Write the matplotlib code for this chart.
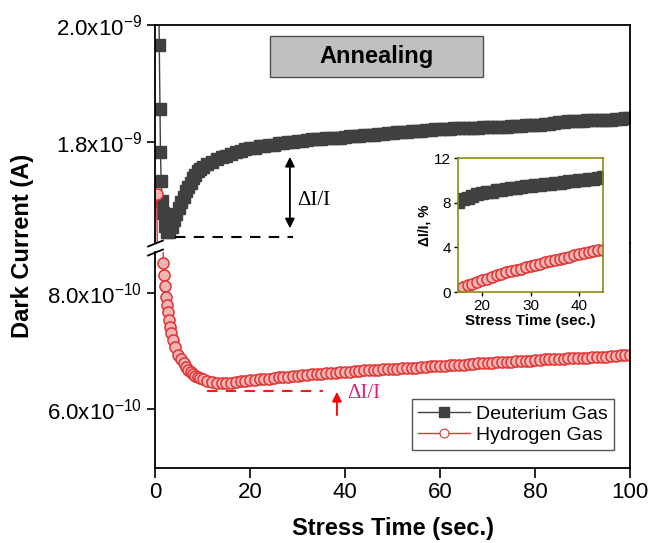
import numpy as np
import matplotlib
matplotlib.use('Agg')
import matplotlib.pyplot as plt
from matplotlib.patches import Rectangle, ConnectionPatch

plt.rcParams['font.family'] = ['Liberation Sans', 'DejaVu Sans']
plt.rcParams['mathtext.default'] = 'regular'

# ---- data ----
# Deuterium gas, dark current in units of 1e-9 A
d_time = [0.5, 0.9, 1.05, 1.15, 1.3, 1.5, 1.7, 2.0, 2.5, 3.0, 3.5, 4.0, 4.5, 5.0, 5.5,
          6.0, 6.5, 7.0, 7.5, 8.0, 8.5, 9.0, 9.5, 10.0] + list(range(11, 101))
d_current = [2.30, 1.966, 1.856, 1.782, 1.733, 1.698, 1.678, 1.655, 1.645, 1.645, 1.654,
             1.666, 1.676, 1.686, 1.696, 1.706, 1.715, 1.723, 1.730, 1.737, 1.743, 1.749,
             1.753, 1.756,
             1.761, 1.766, 1.770, 1.773, 1.776, 1.779, 1.782, 1.784, 1.787, 1.789,
             1.790, 1.792, 1.793, 1.794, 1.795, 1.797, 1.798, 1.799, 1.800, 1.801,
             1.802, 1.803, 1.804, 1.805, 1.805, 1.806, 1.806, 1.807, 1.807, 1.808,
             1.809, 1.810, 1.810, 1.811, 1.812, 1.812, 1.813, 1.814, 1.815, 1.815,
             1.816, 1.816, 1.817, 1.818, 1.818, 1.819, 1.820, 1.820, 1.821, 1.822,
             1.822, 1.822, 1.823, 1.823, 1.823, 1.824, 1.824, 1.824, 1.825, 1.825,
             1.825, 1.826, 1.826, 1.826, 1.827, 1.827, 1.827, 1.828, 1.828, 1.829,
             1.829, 1.830, 1.831, 1.832, 1.833, 1.834, 1.835, 1.835, 1.836, 1.836,
             1.837, 1.837, 1.837, 1.838, 1.838, 1.838, 1.839, 1.839, 1.840, 1.841]

# Hydrogen gas, dark current in units of 1e-10 A
h_time = [0.35, 1.75, 1.9, 2.1, 2.25, 2.45, 2.65, 2.85, 3.15, 3.4, 3.7, 4.2, 4.9, 5.5,
          6.0, 6.5, 7.0, 7.5, 8.0, 8.5, 9.0, 9.5, 10.0] + list(range(11, 101))
h_current = [17.1, 8.52, 8.32, 8.12, 7.94, 7.80, 7.67, 7.54, 7.42, 7.31, 7.19, 7.08, 6.94,
             6.86, 6.79, 6.73, 6.68, 6.64, 6.61, 6.58, 6.56, 6.54, 6.52,
             6.49, 6.47, 6.46, 6.45, 6.45, 6.46, 6.47, 6.48, 6.49, 6.50,
             6.51, 6.52, 6.52, 6.53, 6.54, 6.55, 6.56, 6.56, 6.57, 6.58,
             6.59, 6.59, 6.60, 6.61, 6.61, 6.62, 6.63, 6.63, 6.64, 6.65,
             6.65, 6.66, 6.66, 6.67, 6.67, 6.68, 6.68, 6.69, 6.69, 6.70,
             6.70, 6.71, 6.71, 6.72, 6.72, 6.73, 6.73, 6.74, 6.74, 6.75,
             6.75, 6.76, 6.76, 6.77, 6.77, 6.78, 6.78, 6.79, 6.79, 6.80,
             6.80, 6.81, 6.81, 6.82, 6.82, 6.83, 6.83, 6.84, 6.84, 6.85,
             6.85, 6.86, 6.86, 6.86, 6.87, 6.87, 6.88, 6.88, 6.88, 6.89,
             6.89, 6.90, 6.90, 6.91, 6.91, 6.92, 6.92, 6.93, 6.93, 6.94]

# inset: dI/I in % between 15 and 45 s
ins_time = list(range(15, 46))
ins_d = [8.1, 8.3, 8.45, 8.6, 8.75, 8.85, 8.95, 9.0, 9.1, 9.15, 9.2, 9.3, 9.35, 9.4, 9.45,
         9.5, 9.55, 9.6, 9.65, 9.7, 9.75, 9.8, 9.85, 9.9, 9.95, 10.0, 10.05, 10.1, 10.15,
         10.25, 10.3]
ins_h = [0.3, 0.45, 0.6, 0.75, 0.9, 1.05, 1.2, 1.35, 1.5, 1.6, 1.75, 1.85, 2.0, 2.1, 2.2,
         2.3, 2.45, 2.55, 2.65, 2.75, 2.85, 2.95, 3.05, 3.15, 3.3, 3.4, 3.5, 3.55, 3.65,
         3.75, 3.8]

x_ticks = [0, 20, 40, 60, 80, 100]
up_ticks = [1.8e-9, 2.0e-9]
up_labels = ['1.8x10$^{-9}$', '2.0x10$^{-9}$']
lo_ticks = [6.0e-10, 8.0e-10]
lo_labels = ['6.0x10$^{-10}$', '8.0x10$^{-10}$']
ins_xticks = [20, 30, 40]
ins_yticks = [0, 4, 8, 12]

# reference levels for the dI/I markers
d_base = 1.637e-9
h_base = 6.31e-10

d_I = np.array(d_current) * 1e-9
h_I = np.array(h_current) * 1e-10

D_COL = '#404040'
H_COL = '#e03434'
d_style = dict(color=D_COL, lw=1, marker='s', ms=8.5, mfc=D_COL, mec=D_COL)
h_style = dict(color=H_COL, lw=1, marker='o', ms=8, mfc='#f3b4b4', mec=H_COL, mew=1.1)

W, H = 653.0, 543.0
fig = plt.figure(figsize=(W / 100, H / 100), dpi=100)
ax_up = fig.add_axes([155 / W, 1 - 242.6 / H, 475 / W, 217.6 / H])
ax_lo = fig.add_axes([155 / W, 1 - 467.7 / H, 475 / W, 215.9 / H])

for ax in (ax_up, ax_lo):
    ax.plot(d_time, d_I, '-', label='Deuterium Gas', **d_style)
    ax.plot(h_time, h_I, '-', label='Hydrogen Gas', **h_style)
    ax.set_xlim(0, 100)
    ax.tick_params(direction='out', length=6, width=1.2, labelsize=16)
    for s in ax.spines.values():
        s.set_linewidth(1.3)

ax_up.set_ylim(1.6271e-9, 2.0e-9)
ax_up.spines['bottom'].set_visible(False)
ax_up.tick_params(axis='x', bottom=False, labelbottom=False)
ax_up.set_yticks(up_ticks, up_labels)

ax_lo.set_ylim(4.993e-10, 8.7155e-10)
ax_lo.spines['top'].set_visible(False)
ax_lo.set_yticks(lo_ticks, lo_labels)
ax_lo.set_xticks(x_ticks)
ax_lo.tick_params(axis='x', length=7)

# axis break marks
kw = dict(marker=[(-1, -0.4), (1, 0.4)], markersize=12, linestyle='none', color='k',
          mec='k', mew=1.3, clip_on=False)
ax_up.plot([0], [0], transform=ax_up.transAxes, **kw)
ax_lo.plot([0], [1], transform=ax_lo.transAxes, **kw)
con = ConnectionPatch(xyA=(1, 0), coordsA=ax_up.transAxes, xyB=(1, 1), coordsB=ax_lo.transAxes,
                      color='k', lw=1.3)
fig.add_artist(con)

# dI/I annotations
ax_up.plot([4.2, 29.1], [d_base, d_base], color='k', lw=1.5, dashes=(5, 4))
ax_up.annotate('', xy=(28.4, 1.774e-9), xytext=(28.4, 1.6516e-9),
               arrowprops=dict(arrowstyle='<|-|>', color='k', lw=1.3, mutation_scale=14,
                               shrinkA=0, shrinkB=0))
ax_up.text(29.9, 1.700e-9, 'ΔI/I', family='Liberation Serif', fontsize=15, va='center')

ax_lo.plot([11, 35.4], [h_base, h_base], color='#ff1a1a', lw=1.5, dashes=(5, 4))
ax_lo.annotate('', xy=(38.3, 6.30e-10), xytext=(38.3, 5.90e-10),
               arrowprops=dict(arrowstyle='-|>', color='#ff0000', lw=1.3, mutation_scale=14,
                               shrinkA=0, shrinkB=0))
ax_lo.text(40.4, 6.28e-10, 'ΔI/I', color='#e0207a', family='Liberation Serif', fontsize=15,
           va='center')

# Annealing label box
ax_up.add_patch(Rectangle((0.242, 0.761), 0.448, 0.188, transform=ax_up.transAxes,
                          facecolor='#c0c0c0', edgecolor='#505050', lw=1, zorder=3))
ax_up.text(0.466, 0.855, 'Annealing', transform=ax_up.transAxes, ha='center', va='center',
           fontsize=17, fontweight='bold', zorder=4)

handles = ax_lo.get_lines()[:2]
leg = ax_lo.legend(handles=handles, loc='lower right', bbox_to_anchor=(0.966, 0.082),
                   borderaxespad=0, fontsize=14, fancybox=False, framealpha=1,
                   edgecolor='#555555', handlelength=2.7, borderpad=0.3, labelspacing=0.2,
                   handletextpad=0.3, markerscale=0.8)
leg.get_frame().set_linewidth(1.0)
leg.legend_handles[1].set_markerfacecolor('white')
leg.legend_handles[1].set_markeredgewidth(0.8)

fig.text(23 / W, 1 - 246 / H, 'Dark Current (A)', rotation=90, ha='center', va='center',
         fontsize=17, fontweight='bold')
fig.text(393 / W, 1 - 528 / H, 'Stress Time (sec.)', ha='center', va='center',
         fontsize=17, fontweight='bold')

# inset
ax_in = fig.add_axes([458 / W, 1 - 292 / H, 145 / W, 134 / H])
ax_in.plot(ins_time, ins_d, '-', **d_style)
ax_in.plot(ins_time, ins_h, '-', **h_style)
ax_in.set_xlim(15, 45)
ax_in.set_ylim(0, 12)
ax_in.set_xticks(ins_xticks)
ax_in.set_yticks(ins_yticks)
ax_in.tick_params(direction='out', length=3, width=1, labelsize=11, pad=2)
for s in ax_in.spines.values():
    s.set_color('#8c8c14')
    s.set_linewidth(1.2)
ax_in.set_xlabel('Stress Time (sec.)', fontsize=11, fontweight='bold', labelpad=1)
ax_in.set_ylabel('ΔI/I, %', fontsize=10, fontweight='bold', labelpad=2)

fig.savefig('out.png', dpi=100)
